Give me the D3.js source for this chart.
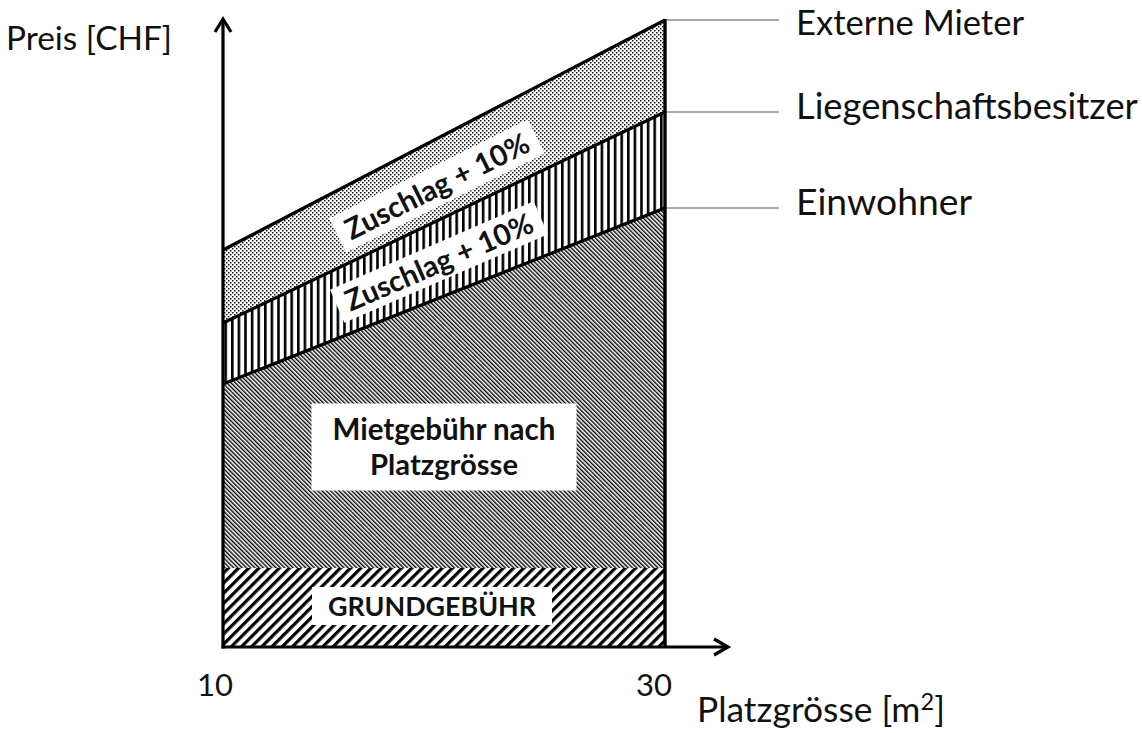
<!DOCTYPE html>
<html lang="de">
<head>
<meta charset="UTF-8">
<title>Preis nach Platzgrösse</title>
<script src="https://d3js.org/d3.v7.min.js"></script>
<style>
  body { margin: 0; background: #fff; }
  svg { display: block; }
  text { font-family: Lato, "Open Sans", sans-serif; fill: #111; }
</style>
</head>
<body>
<div id="chart"></div>
<script>
// x values (Platzgrösse in m2)
const sizes = [10, 30];
// price levels (arbitrary CHF units)
const grundgebuehr = [79, 79];
const einwohner = [263, 439];
const liegenschaft = [324, 535];
const extern = [397, 627];
const seriesNames = ["Externe Mieter", "Liegenschaftsbesitzer", "Einwohner"];
const xTicks = [10, 30];

const width = 1142, height = 733;

const svg = d3.select("#chart").append("svg")
  .attr("width", width)
  .attr("height", height);

const x = d3.scaleLinear().domain([10, 30]).range([223, 665]);
const y = d3.scaleLinear().domain([0, 627]).range([647, 20]);

// patterns
const defs = svg.append("defs");

// dots for the top band
const dots = defs.append("pattern")
  .attr("id", "dots").attr("patternUnits", "userSpaceOnUse")
  .attr("width", 4).attr("height", 4);
dots.append("rect").attr("width", 4).attr("height", 4).attr("fill", "#fff");
dots.append("rect").attr("x", 0).attr("y", 0).attr("width", 1.5).attr("height", 1.5).attr("fill", "#111");
dots.append("rect").attr("x", 2).attr("y", 2).attr("width", 1.5).attr("height", 1.5).attr("fill", "#111");

// vertical stripes
const vert = defs.append("pattern")
  .attr("id", "vert").attr("patternUnits", "userSpaceOnUse")
  .attr("width", 6.6).attr("height", 10);
vert.append("rect").attr("width", 6.6).attr("height", 10).attr("fill", "#fff");
vert.append("rect").attr("width", 2.6).attr("height", 10).attr("fill", "#000");

// fine back-diagonal lines
const fine = defs.append("pattern")
  .attr("id", "fine").attr("patternUnits", "userSpaceOnUse")
  .attr("width", 3).attr("height", 10)
  .attr("patternTransform", "rotate(-45)");
fine.append("rect").attr("width", 3).attr("height", 10).attr("fill", "#fff");
fine.append("rect").attr("width", 1.4).attr("height", 10).attr("fill", "#000");

// wide forward-diagonal lines
const wide = defs.append("pattern")
  .attr("id", "wide").attr("patternUnits", "userSpaceOnUse")
  .attr("width", 7.2).attr("height", 10)
  .attr("patternTransform", "rotate(45)");
wide.append("rect").attr("width", 7.2).attr("height", 10).attr("fill", "#fff");
wide.append("rect").attr("width", 3.2).attr("height", 10).attr("fill", "#000");

// bands
const idx = d3.range(sizes.length);
const band = (lo, hi) => d3.area()
  .x(i => x(sizes[i]))
  .y0(i => y(lo[i]))
  .y1(i => y(hi[i]))(idx);
const zero = sizes.map(() => 0);

const bands = [
  { lo: zero, hi: grundgebuehr, fill: "url(#wide)" },
  { lo: grundgebuehr, hi: einwohner, fill: "url(#fine)" },
  { lo: einwohner, hi: liegenschaft, fill: "url(#vert)" },
  { lo: liegenschaft, hi: extern, fill: "url(#dots)" }
];
svg.selectAll("path.band").data(bands).enter().append("path")
  .attr("class", "band")
  .attr("d", d => band(d.lo, d.hi))
  .attr("fill", d => d.fill);

// boundary lines
[extern, liegenschaft, einwohner].forEach(vals => {
  svg.append("path")
    .attr("d", d3.line().x(i => x(sizes[i])).y(i => y(vals[i]))(idx))
    .attr("stroke", "#000").attr("stroke-width", 3.2).attr("fill", "none");
});

// right edge
svg.append("line")
  .attr("x1", x(30)).attr("x2", x(30))
  .attr("y1", y(extern[1]) - 1).attr("y2", y(0))
  .attr("stroke", "#000").attr("stroke-width", 3.4);

// leader lines and series labels
const rightVals = [extern[1], liegenschaft[1], einwohner[1]];
const labelWidths = [228, 342, 176];
const labelShift = [15, 7, 7];
seriesNames.forEach((name, i) => {
  const yy = y(rightVals[i]);
  svg.append("line")
    .attr("x1", x(30) + 2).attr("x2", 779)
    .attr("y1", yy).attr("y2", yy)
    .attr("stroke", "#555").attr("stroke-width", 1);
  const t = svg.append("text")
    .attr("x", 796).attr("y", yy + labelShift[i])
    .attr("font-size", 30)
    .text(name);
  fit(t, labelWidths[i]);
});

// axes
svg.append("line")
  .attr("x1", x(10)).attr("x2", x(10))
  .attr("y1", 19).attr("y2", y(0) + 1.5)
  .attr("stroke", "#000").attr("stroke-width", 3.2);
svg.append("line")
  .attr("x1", x(10) - 1.5).attr("x2", 727)
  .attr("y1", y(0)).attr("y2", y(0))
  .attr("stroke", "#000").attr("stroke-width", 3.2);
svg.append("path")
  .attr("d", `M${x(10) - 8},${32} L${x(10)},${19} L${x(10) + 8},${32}`)
  .attr("stroke", "#000").attr("stroke-width", 3.2).attr("fill", "none");
svg.append("path")
  .attr("d", `M714,${y(0) - 8} L728,${y(0)} L714,${y(0) + 8}`)
  .attr("stroke", "#000").attr("stroke-width", 3.2).attr("fill", "none");

// tick labels
svg.selectAll("text.tick").data(xTicks).enter().append("text")
  .attr("class", "tick")
  .attr("x", d => x(d) + (d === 10 ? -8 : -11))
  .attr("y", 696)
  .attr("text-anchor", "middle")
  .attr("font-size", 31)
  .text(d => d);

// axis titles
fit(svg.append("text").attr("x", 6).attr("y", 50).attr("font-size", 32).text("Preis [CHF]"), 166);
const xt = svg.append("text").attr("x", 697).attr("y", 722).attr("font-size", 30);
xt.append("tspan").text("Platzgrösse [m");
const sup = xt.append("tspan").attr("dy", -12).attr("font-size", 20).text("2");
xt.append("tspan").attr("dy", 12).text("]");
{
  const k = 248 / xt.node().getComputedTextLength();
  xt.attr("font-size", (30 * k).toFixed(2));
  sup.attr("font-size", (20 * k).toFixed(2));
}

// boxed labels inside the bands
function boxLabel(cx, cy, angle, lines, w, h, tw) {
  const g = svg.append("g").attr("transform", `translate(${cx},${cy}) rotate(${angle})`);
  g.append("rect")
    .attr("x", -w / 2).attr("y", -h / 2)
    .attr("width", w).attr("height", h)
    .attr("fill", "#fff");
  const lh = 35;
  lines.forEach((s, i) => {
    const t = g.append("text")
      .attr("x", 0)
      .attr("y", (i - (lines.length - 1) / 2) * lh)
      .attr("dy", "0.36em")
      .attr("text-anchor", "middle")
      .attr("font-weight", "bold")
      .attr("font-size", 22)
      .text(s);
    fit(t, tw[i]);
  });
}

boxLabel(437, 186, -26.5, ["Zuschlag + 10%"], 222, 38, [202]);
boxLabel(439, 262, -23.5, ["Zuschlag + 10%"], 222, 36, [202]);
boxLabel(444, 447, 0, ["Mietgebühr nach", "Platzgrösse"], 265, 87, [223, 148]);
boxLabel(432, 606, 0, ["GRUNDGEBÜHR"], 240, 38, [208]);

function fit(sel, target) {
  const len = sel.node().getComputedTextLength();
  const fs = +sel.attr("font-size");
  sel.attr("font-size", (fs * target / len).toFixed(2));
  return sel;
}
</script>
</body>
</html>
